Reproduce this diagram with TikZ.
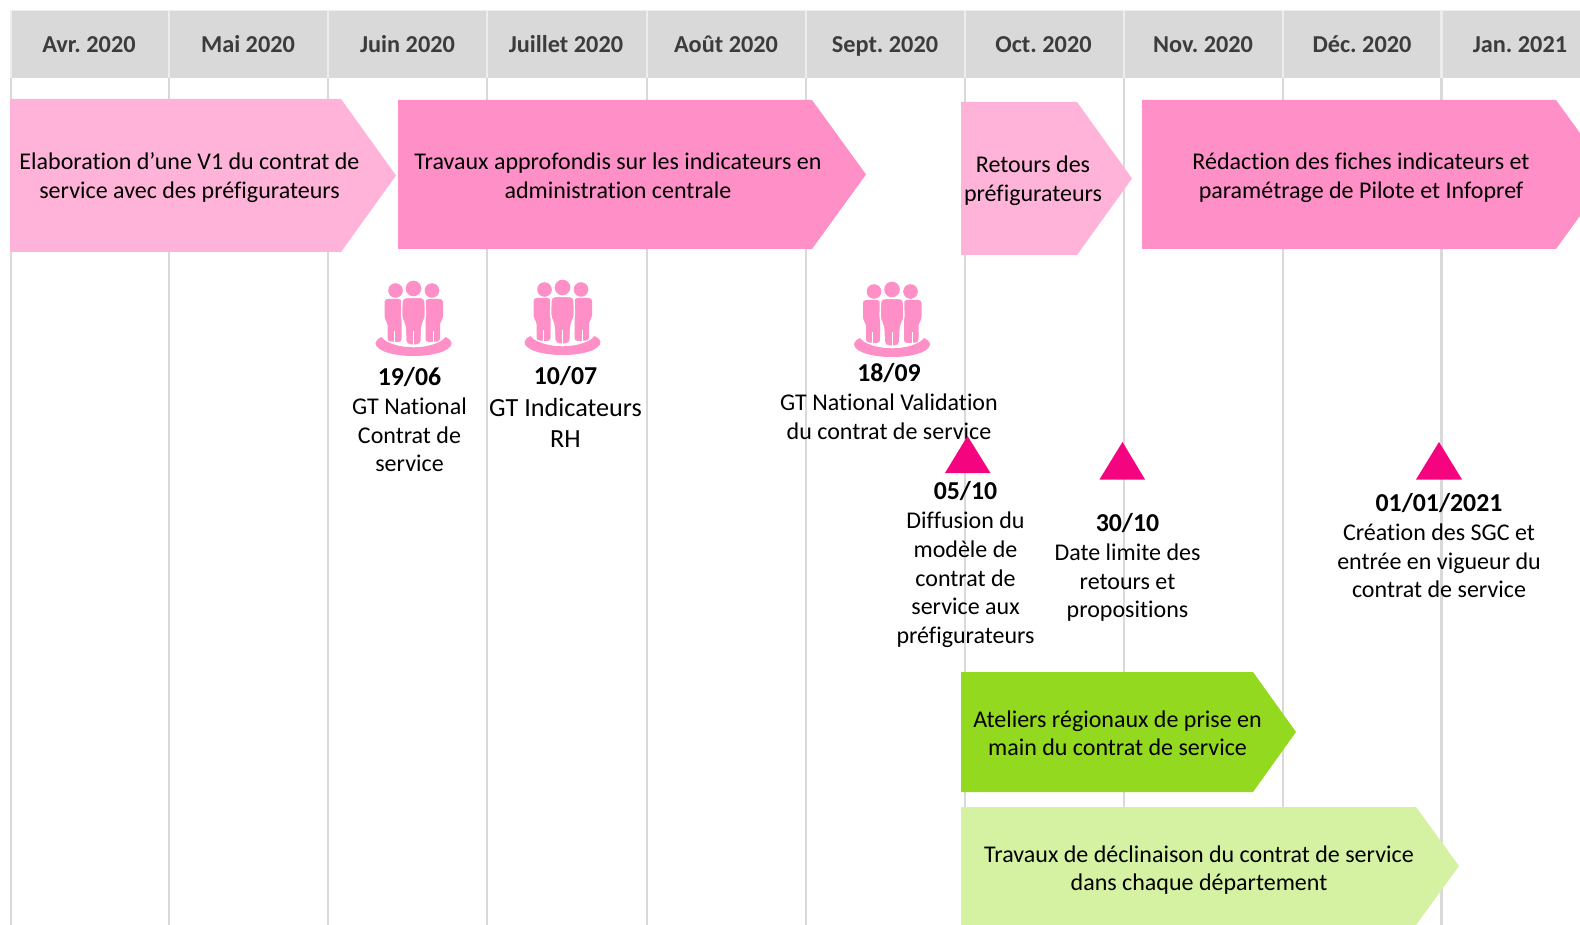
\documentclass[tikz,border=0pt]{standalone}
\usepackage{fontspec}
\setmainfont[Ligatures=NoCommon]{Carlito}
\frenchspacing
\definecolor{hdr}{HTML}{D9D9D9}
\definecolor{sep}{HTML}{EDEDED}
\definecolor{rule}{HTML}{D9D9D9}
\definecolor{pinkL}{HTML}{FFB3D9}
\definecolor{pinkM}{HTML}{FF8FC7}
\definecolor{pinkS}{HTML}{F5047F}
\definecolor{greenS}{HTML}{92D91F}
\definecolor{greenL}{HTML}{D5F2A2}
\definecolor{hdtext}{HTML}{3C3C3C}
\tikzset{
  month/.style={font=\fontsize{24.3}{28}\selectfont\bfseries,text=hdtext,inner sep=0pt,text height=16pt,text depth=5pt},
  body/.style={font=\fontsize{24}{28.7}\selectfont,align=center,inner sep=0pt,text=black},
  bodybig/.style={font=\fontsize{26.2}{31}\selectfont,align=center,inner sep=0pt,text=black},
  datelbl/.style={font=\fontsize{25.8}{28}\selectfont\bfseries,inner sep=0pt,text=black},
  crowd/.pic={
    \fill[pinkM] (-32,56) .. controls (-36,58) and (-38,60) .. (-38,62)
      .. controls (-38,70) and (-20,75) .. (0,75)
      .. controls (20,75) and (38,70) .. (38,62)
      .. controls (38,60) and (36,58) .. (32,56)
      .. controls (28,62) and (14,66.3) .. (0,66.3)
      .. controls (-14,66.3) and (-28,62) .. (-32,56) -- cycle;
    \fill[pinkM] (-18,9.5) circle[radius=7.3];
    \fill[pinkM] (18.5,9.5) circle[radius=7.3];
    \fill[pinkM] (0,7.5) circle[radius=7.8];
    \fill[pinkM,rounded corners=3pt] (-29,18) -- (-12,18) -- (-12,40) -- (-12,61) -- (-26,60.5) -- (-26,41) -- (-29,38) -- cycle;
    \fill[pinkM,rounded corners=3pt] (29.5,18) -- (12,18) -- (12,40) -- (12,61) -- (26.5,60.5) -- (26.5,41) -- (29.5,38) -- cycle;
    \draw[white,line width=0.7pt] (-19.5,50) -- (-19.5,61);
    \draw[white,line width=0.7pt] (20,50) -- (20,61);
    \filldraw[pinkM,draw=white,line width=1.4pt,rounded corners=4pt] (-11.5,16.5) -- (11.5,16.5) -- (12,38) -- (8.5,43) -- (7.5,64) -- (-7.5,64) -- (-8.5,43) -- (-12,38) -- cycle;
    \draw[white,line width=0.7pt] (0.2,50) -- (0.2,64);
  }
}
\begin{document}
\begin{tikzpicture}[x=1pt,y=-1pt]
\useasboundingbox (0,0) rectangle (1580,925);
\begin{scope}
\clip (0,0) rectangle (1580,925);
\fill[white] (0,0) rectangle (1580,925);
% header band
\fill[hdr] (10,11) rectangle (1580,78);
\draw[sep,line width=1.5pt] (10,10.5) -- (1580,10.5);
% grid lines
\foreach \gx in {11,169,328,487,647,806,965,1124,1283,1441.5}{
  \draw[rule,line width=2.6pt] (\gx,78) -- (\gx,925);
  \draw[sep,line width=2.2pt] (\gx,10) -- (\gx,78);
}
% months
\node[month] (m1) at (89,47.3) {Avr. 2020};
\node[month] (m2) at (248,47.3) {Mai 2020};
\node[month] (m3) at (407.5,47.3) {Juin 2020};
\node[month] (m4) at (566,47.3) {Juillet 2020};
\node[month] (m5) at (726,47.3) {Août 2020};
\node[month] (m6) at (885,47.3) {Sept. 2020};
\node[month] (m7) at (1043.5,47.3) {Oct. 2020};
\node[month] (m8) at (1203,47.3) {Nov. 2020};
\node[month] (m9) at (1362,47.3) {Déc. 2020};
\node[month] (m10) at (1520,47.3) {Jan. 2021};
% icons
\pic at (413.5,281) {crowd};
\pic at (562.5,280) {crowd};
\pic at (892,282) {crowd};
% labels
\node[datelbl] (d1) at (409.5,377) {19/06};
\node[body] (t1) at (409.5,435) {GT National\\Contrat de\\service};
\node[bodybig] (t2) at (565.5,423) {GT Indicateurs\\RH};
\node[datelbl] (d2) at (565.5,376) {10/07};
\node[datelbl] (d3) at (889,373) {18/09};
\node[body] (t3) at (889,417) {GT National Validation\\du contrat de service};
\node[datelbl] (d4) at (965.5,491) {05/10};
\node[body] (t4) at (965.5,580) {Diffusion du\\modèle de\\contrat de\\service aux\\préfigurateurs};
\node[datelbl] (d5) at (1127.5,523) {30/10};
\node[body] (t5) at (1127.5,582.6) {Date limite des\\retours et\\propositions};
\node[datelbl] (d6) at (1439,503) {01/01/2021};
\node[body] (t6) at (1439,561) {Création des SGC et\\entrée en vigueur du\\contrat de service};
% triangles
\fill[pinkS] (945,473) -- (967.5,436) -- (990.5,473) -- cycle;
\fill[pinkS] (1099.5,479.5) -- (1122.5,442) -- (1145,479.5) -- cycle;
\fill[pinkS] (1416,479.5) -- (1439,442) -- (1462,479.5) -- cycle;
% arrows
\fill[pinkL] (10,99) -- (341,99) -- (396,175.5) -- (341,252) -- (10,252) -- cycle;
\fill[pinkM] (398,100) -- (812,100) -- (866,174.5) -- (812,249) -- (398,249) -- cycle;
\fill[pinkL] (961,102) -- (1077,102) -- (1132,178.5) -- (1077,255) -- (961,255) -- cycle;
\fill[pinkM] (1142,100) -- (1556,100) -- (1610,174.5) -- (1556,249) -- (1142,249) -- cycle;
\fill[greenS] (961,672) -- (1253,672) -- (1296,732) -- (1253,792) -- (961,792) -- cycle;
\fill[greenL] (961,807) -- (1416,807) -- (1459,866) -- (1416,925) -- (961,925) -- cycle;
\node[body] (a1) at (189.5,177.6) {Elaboration d’une V1 du contrat de\\service avec des préfigurateurs};
\node[body] (a2) at (618,175.5) {Travaux approfondis sur les indicateurs en\\administration centrale};
\node[body] (a3) at (1033,181) {Retours des\\préfigurateurs};
\node[body] (a4) at (1361,177.5) {Rédaction des fiches indicateurs et\\paramétrage de Pilote et Infopref};
\node[body] (a5) at (1117.5,733.2) {Ateliers régionaux de prise en\\main du contrat de service};
\node[body] (a6) at (1199,870) {Travaux de déclinaison du contrat de service\\dans chaque département};
\end{scope}
\end{tikzpicture}
\end{document}
